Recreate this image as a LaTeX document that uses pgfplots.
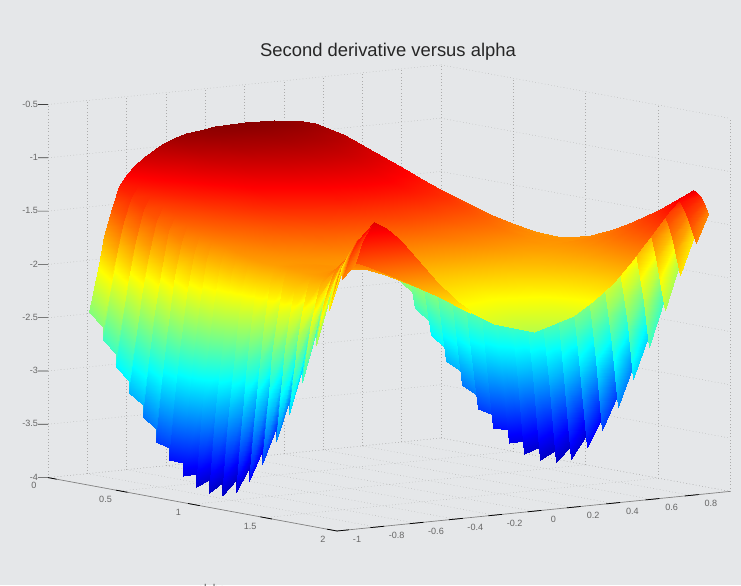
\documentclass[border=0pt]{standalone}
\usepackage{pgfplots}
\pgfplotsset{compat=1.18}
\usepackage{fontspec}
\setmainfont{Liberation Sans}
\definecolor{bgc}{RGB}{229,231,233}
\begin{document}
\begin{tikzpicture}
\path[use as bounding box,fill=bgc] (0,0) rectangle (555.75pt,438.75pt);
\begin{axis}[
 at={(36pt,40.5pt)},anchor=south west,
 x={(108.375pt,-20.025pt)},y={(147.375pt,14.85pt)},z={(0pt,79.95pt)},
 xmin=0,xmax=2,ymin=-1,ymax=1,zmin=-4,zmax=-0.5,
 clip=false,
 axis line style={draw=none},
 grid=major,grid style={dotted,gray!65,line width=0.35pt},
 xtick={0,0.5,1,1.5,2},xticklabels={0,0.5,1,1.5,2},
 ytick={-1,-0.8,-0.6,-0.4,-0.2,0,0.2,0.4,0.6,0.8,1},
 yticklabels={-1,-0.8,-0.6,-0.4,-0.2,0,0.2,0.4,0.6,0.8,},
 ztick={-4,-3.5,-3,-2.5,-2,-1.5,-1,-0.5},
 zticklabels={-4,-3.5,-3,-2.5,-2,-1.5,-1,-0.5},
 xtick pos=lower,ytick pos=lower,ztick pos=left,
 xtick style={draw=none},ytick style={draw=none},ztick style={draw=none},
 tick label style={font=\fontsize{6.8pt}{8pt}\selectfont,text=gray!80!black},
 xticklabel style={xshift=-5.25pt},
 yticklabel style={xshift=10pt},
 zticklabel style={xshift=-4pt},
 major tick length=7pt,
 colormap={jetm}{rgb(0pt)=(0,0,.5); rgb(1pt)=(0,0,1); rgb(3pt)=(0,1,1); rgb(5pt)=(1,1,0); rgb(7pt)=(1,0,0); rgb(8pt)=(.5,0,0)},
 point meta min=-4.18,point meta max=-0.82,
 title={Second derivative versus alpha},
 title style={font=\fontsize{13.8pt}{16pt}\selectfont,text=black!85,at={(axis description cs:0.4985,1.011)},anchor=center},
 xlabel={alpha},
 xlabel style={font=\fontsize{8.5pt}{10pt}\selectfont,text=gray!70!black,at={(axis description cs:0.24,-0.125)},anchor=center},
]
\addplot3[black!50,line width=0.5pt,no marks] coordinates {(0,-1,-4) (2,-1,-4) (2,1,-4)};
\addplot3[black,line width=0.55pt,no marks,unbounded coords=jump] coordinates {
 (0,-1,-4) (0.06,-1,-4) (nan,nan,nan)
 (0.47,-1,-4) (0.55,-1,-4) (nan,nan,nan)
 (0.97,-1,-4) (1.05,-1,-4) (nan,nan,nan)
 (1.47,-1,-4) (1.55,-1,-4) (nan,nan,nan)
 (1.93,-1,-4) (2,-1,-4) (nan,nan,nan)
 (2,-1,-4) (2,-0.94,-4) (nan,nan,nan)
 (2,-0.83,-4) (2,-0.76,-4) (nan,nan,nan)
 (2,-0.63,-4) (2,-0.56,-4) (nan,nan,nan)
 (2,-0.43,-4) (2,-0.36,-4) (nan,nan,nan)
 (2,-0.23,-4) (2,-0.16,-4) (nan,nan,nan)
 (2,-0.03,-4) (2,0.04,-4) (nan,nan,nan)
 (2,0.17,-4) (2,0.24,-4) (nan,nan,nan)
 (2,0.37,-4) (2,0.44,-4) (nan,nan,nan)
 (2,0.57,-4) (2,0.64,-4) (nan,nan,nan)
 (2,0.77,-4) (2,0.84,-4)
};
\addplot3[black!75,line width=0.45pt,no marks,unbounded coords=jump] coordinates {
 (0,-1,-4) (-0.0244,-1.0329,-4) (nan,nan,nan)
 (0,-1,-3.5) (-0.0244,-1.0329,-3.5) (nan,nan,nan)
 (0,-1,-3) (-0.0244,-1.0329,-3) (nan,nan,nan)
 (0,-1,-2.5) (-0.0244,-1.0329,-2.5) (nan,nan,nan)
 (0,-1,-2) (-0.0244,-1.0329,-2) (nan,nan,nan)
 (0,-1,-1.5) (-0.0244,-1.0329,-1.5) (nan,nan,nan)
 (0,-1,-1) (-0.0244,-1.0329,-1) (nan,nan,nan)
 (0,-1,-0.5) (-0.0244,-1.0329,-0.5)
};
% far wall, strip by strip
\addplot3[surf,shader=interp,mesh/rows=40,mesh/cols=6,z buffer=none,point meta=explicit] table[meta index=3] {
0 0.79 -2.49 -2.49
0 0.743 -2.04 -2.04
0 0.714 -1.79 -1.79
0 0.676 -1.53 -1.53
0 0.638 -1.33 -1.33
0 0.60 -1.23 -1.23
0.1 0.796 -2.60 -2.49
0.1 0.750 -2.13 -2.04
0.1 0.722 -1.89 -1.79
0.1 0.685 -1.61 -1.53
0.1 0.648 -1.40 -1.37
0.1 0.611 -1.30 -1.30
0.1 0.796 -2.72 -2.72
0.1 0.750 -2.21 -2.21
0.1 0.722 -1.94 -1.94
0.1 0.685 -1.64 -1.64
0.1 0.648 -1.41 -1.41
0.1 0.611 -1.30 -1.30
0.2 0.802 -2.83 -2.72
0.2 0.756 -2.30 -2.21
0.2 0.729 -2.03 -1.94
0.2 0.693 -1.72 -1.64
0.2 0.657 -1.49 -1.45
0.2 0.621 -1.37 -1.37
0.2 0.802 -2.95 -2.95
0.2 0.756 -2.38 -2.38
0.2 0.729 -2.08 -2.08
0.2 0.693 -1.75 -1.75
0.2 0.657 -1.50 -1.50
0.2 0.621 -1.37 -1.37
0.3 0.807 -3.05 -2.95
0.3 0.763 -2.47 -2.38
0.3 0.737 -2.16 -2.08
0.3 0.702 -1.83 -1.75
0.3 0.667 -1.57 -1.53
0.3 0.632 -1.44 -1.44
0.3 0.807 -3.17 -3.17
0.3 0.763 -2.55 -2.55
0.3 0.737 -2.21 -2.21
0.3 0.702 -1.86 -1.86
0.3 0.667 -1.58 -1.58
0.3 0.632 -1.44 -1.44
0.4 0.813 -3.25 -3.17
0.4 0.770 -2.62 -2.55
0.4 0.745 -2.29 -2.21
0.4 0.710 -1.92 -1.86
0.4 0.676 -1.64 -1.61
0.4 0.642 -1.50 -1.50
0.4 0.813 -3.37 -3.37
0.4 0.770 -2.70 -2.70
0.4 0.745 -2.34 -2.34
0.4 0.710 -1.95 -1.95
0.4 0.676 -1.65 -1.65
0.4 0.642 -1.50 -1.50
0.5 0.819 -3.45 -3.37
0.5 0.777 -2.77 -2.70
0.5 0.752 -2.41 -2.34
0.5 0.719 -2.01 -1.95
0.5 0.686 -1.71 -1.68
0.5 0.653 -1.56 -1.56
0.5 0.819 -3.57 -3.57
0.5 0.777 -2.85 -2.85
0.5 0.752 -2.46 -2.46
0.5 0.719 -2.04 -2.04
0.5 0.686 -1.72 -1.72
0.5 0.653 -1.56 -1.56
0.6 0.825 -3.60 -3.57
0.6 0.784 -2.88 -2.85
0.6 0.760 -2.51 -2.46
0.6 0.728 -2.09 -2.04
0.6 0.695 -1.77 -1.75
0.6 0.663 -1.61 -1.61
0.6 0.825 -3.72 -3.72
0.6 0.784 -2.96 -2.96
0.6 0.760 -2.56 -2.56
0.6 0.728 -2.12 -2.12
0.6 0.695 -1.78 -1.78
0.6 0.663 -1.61 -1.61
0.7 0.830 -3.72 -3.72
0.7 0.791 -2.97 -2.96
0.7 0.768 -2.58 -2.56
0.7 0.736 -2.15 -2.12
0.7 0.705 -1.82 -1.80
0.7 0.674 -1.65 -1.65
0.7 0.830 -3.84 -3.84
0.7 0.791 -3.05 -3.05
0.7 0.768 -2.63 -2.63
0.7 0.736 -2.18 -2.18
0.7 0.705 -1.83 -1.83
0.7 0.674 -1.65 -1.65
0.8 0.836 -3.80 -3.84
0.8 0.798 -3.04 -3.05
0.8 0.775 -2.64 -2.63
0.8 0.745 -2.20 -2.18
0.8 0.714 -1.86 -1.85
0.8 0.684 -1.69 -1.69
0.8 0.836 -3.92 -3.92
0.8 0.798 -3.12 -3.12
0.8 0.775 -2.69 -2.69
0.8 0.745 -2.23 -2.23
0.8 0.714 -1.87 -1.87
0.8 0.684 -1.69 -1.69
0.9 0.842 -3.83 -3.92
0.9 0.805 -3.07 -3.12
0.9 0.783 -2.67 -2.69
0.9 0.753 -2.23 -2.23
0.9 0.724 -1.89 -1.88
0.9 0.695 -1.72 -1.72
0.9 0.842 -3.95 -3.95
0.9 0.805 -3.15 -3.15
0.9 0.783 -2.72 -2.72
0.9 0.753 -2.26 -2.26
0.9 0.724 -1.90 -1.90
0.9 0.695 -1.72 -1.72
1 0.848 -3.83 -3.95
1 0.812 -3.08 -3.15
1 0.791 -2.68 -2.72
1 0.762 -2.24 -2.26
1 0.734 -1.91 -1.90
1 0.705 -1.74 -1.74
1 0.848 -3.95 -3.95
1 0.812 -3.16 -3.16
1 0.791 -2.73 -2.73
1 0.762 -2.27 -2.27
1 0.734 -1.92 -1.92
1 0.705 -1.74 -1.74
1.1 0.853 -3.77 -3.95
1.1 0.819 -3.05 -3.16
1.1 0.798 -2.66 -2.73
1.1 0.771 -2.24 -2.27
1.1 0.743 -1.92 -1.92
1.1 0.716 -1.76 -1.76
1.1 0.853 -3.89 -3.89
1.1 0.819 -3.13 -3.13
1.1 0.798 -2.71 -2.71
1.1 0.771 -2.27 -2.27
1.1 0.743 -1.93 -1.93
1.1 0.716 -1.76 -1.76
1.2 0.859 -3.64 -3.89
1.2 0.826 -2.96 -3.13
1.2 0.806 -2.61 -2.71
1.2 0.779 -2.21 -2.27
1.2 0.753 -1.91 -1.92
1.2 0.726 -1.76 -1.76
1.2 0.859 -3.76 -3.76
1.2 0.826 -3.04 -3.04
1.2 0.806 -2.66 -2.66
1.2 0.779 -2.24 -2.24
1.2 0.753 -1.92 -1.92
1.2 0.726 -1.76 -1.76
1.3 0.865 -3.45 -3.76
1.3 0.833 -2.83 -3.04
1.3 0.814 -2.51 -2.66
1.3 0.788 -2.15 -2.24
1.3 0.762 -1.88 -1.90
1.3 0.737 -1.74 -1.74
1.3 0.865 -3.57 -3.57
1.3 0.833 -2.91 -2.91
1.3 0.814 -2.56 -2.56
1.3 0.788 -2.18 -2.18
1.3 0.762 -1.89 -1.89
1.3 0.737 -1.74 -1.74
1.4 0.871 -3.21 -3.57
1.4 0.840 -2.67 -2.91
1.4 0.821 -2.38 -2.56
1.4 0.796 -2.06 -2.18
1.4 0.772 -1.82 -1.85
1.4 0.747 -1.70 -1.70
1.4 0.871 -3.33 -3.33
1.4 0.840 -2.75 -2.75
1.4 0.821 -2.43 -2.43
1.4 0.796 -2.09 -2.09
1.4 0.772 -1.83 -1.83
1.4 0.747 -1.70 -1.70
1.5 0.876 -2.93 -3.33
1.5 0.847 -2.46 -2.75
1.5 0.829 -2.22 -2.43
1.5 0.805 -1.94 -2.09
1.5 0.781 -1.73 -1.78
1.5 0.758 -1.63 -1.63
1.5 0.876 -3.05 -3.05
1.5 0.847 -2.54 -2.54
1.5 0.829 -2.27 -2.27
1.5 0.805 -1.97 -1.97
1.5 0.781 -1.74 -1.74
1.5 0.758 -1.63 -1.63
1.6 0.882 -2.60 -3.05
1.6 0.854 -2.22 -2.54
1.6 0.836 -2.02 -2.27
1.6 0.814 -1.80 -1.97
1.6 0.791 -1.63 -1.68
1.6 0.768 -1.55 -1.55
1.6 0.882 -2.72 -2.72
1.6 0.854 -2.30 -2.30
1.6 0.836 -2.07 -2.07
1.6 0.814 -1.83 -1.83
1.6 0.791 -1.64 -1.64
1.6 0.768 -1.55 -1.55
1.7 0.888 -2.23 -2.72
1.7 0.861 -1.95 -2.30
1.7 0.844 -1.81 -2.07
1.7 0.822 -1.64 -1.83
1.7 0.800 -1.52 -1.58
1.7 0.779 -1.46 -1.46
1.7 0.888 -2.35 -2.35
1.7 0.861 -2.03 -2.03
1.7 0.844 -1.86 -1.86
1.7 0.822 -1.67 -1.67
1.7 0.800 -1.53 -1.53
1.7 0.779 -1.46 -1.46
1.8 0.894 -1.88 -2.35
1.8 0.867 -1.69 -2.03
1.8 0.852 -1.59 -1.86
1.8 0.831 -1.48 -1.67
1.8 0.810 -1.40 -1.46
1.8 0.789 -1.36 -1.36
1.8 0.894 -2.00 -2.00
1.8 0.867 -1.77 -1.77
1.8 0.852 -1.64 -1.64
1.8 0.831 -1.51 -1.51
1.8 0.810 -1.41 -1.41
1.8 0.789 -1.36 -1.36
1.9 0.899 -1.56 -2.00
1.9 0.874 -1.45 -1.77
1.9 0.859 -1.39 -1.64
1.9 0.840 -1.32 -1.51
1.9 0.820 -1.27 -1.34
1.9 0.800 -1.25 -1.25
1.9 0.899 -1.68 -1.68
1.9 0.874 -1.53 -1.53
1.9 0.859 -1.44 -1.44
1.9 0.840 -1.35 -1.35
1.9 0.820 -1.28 -1.28
1.9 0.800 -1.25 -1.25
2 0.89 -1.38 -1.68
2 0.875 -1.30 -1.53
2 0.862 -1.25 -1.44
2 0.848 -1.20 -1.35
2 0.829 -1.16 -1.22
2 0.81 -1.14 -1.14
};
% main sheet
\addplot3[surf,shader=interp,mesh/rows=21,mesh/cols=17,z buffer=none,point meta=z] table {
0 0.60 -1.23
0 0.555 -1.15
0 0.51 -1.08
0 0.42 -0.98
0 0.36 -0.93
0 0.30 -0.90
0 0.225 -0.88
0 0.15 -0.86
0 0 -0.85
0 -0.15 -0.86
0 -0.225 -0.88
0 -0.30 -0.90
0 -0.36 -0.93
0 -0.42 -0.98
0 -0.51 -1.08
0 -0.555 -1.15
0 -0.60 -1.23
0.1 0.611 -1.30
0.1 0.565 -1.21
0.1 0.519 -1.13
0.1 0.427 -1.02
0.1 0.366 -0.97
0.1 0.305 -0.93
0.1 0.229 -0.90
0.1 0.153 -0.88
0.1 0 -0.87
0.1 -0.153 -0.88
0.1 -0.229 -0.90
0.1 -0.305 -0.93
0.1 -0.366 -0.97
0.1 -0.427 -1.02
0.1 -0.519 -1.13
0.1 -0.565 -1.21
0.1 -0.611 -1.30
0.2 0.621 -1.37
0.2 0.574 -1.28
0.2 0.528 -1.20
0.2 0.435 -1.08
0.2 0.373 -1.02
0.2 0.311 -0.98
0.2 0.233 -0.95
0.2 0.155 -0.93
0.2 0 -0.91
0.2 -0.155 -0.93
0.2 -0.233 -0.95
0.2 -0.311 -0.98
0.2 -0.373 -1.02
0.2 -0.435 -1.08
0.2 -0.528 -1.20
0.2 -0.574 -1.28
0.2 -0.621 -1.37
0.3 0.632 -1.44
0.3 0.584 -1.34
0.3 0.537 -1.26
0.3 0.442 -1.14
0.3 0.379 -1.07
0.3 0.316 -1.03
0.3 0.237 -0.99
0.3 0.158 -0.97
0.3 0 -0.95
0.3 -0.158 -0.97
0.3 -0.237 -0.99
0.3 -0.316 -1.03
0.3 -0.379 -1.07
0.3 -0.442 -1.14
0.3 -0.537 -1.26
0.3 -0.584 -1.34
0.3 -0.632 -1.44
0.4 0.642 -1.50
0.4 0.594 -1.41
0.4 0.546 -1.33
0.4 0.449 -1.20
0.4 0.385 -1.13
0.4 0.321 -1.09
0.4 0.241 -1.05
0.4 0.161 -1.02
0.4 0 -1.00
0.4 -0.161 -1.02
0.4 -0.241 -1.05
0.4 -0.321 -1.09
0.4 -0.385 -1.13
0.4 -0.449 -1.20
0.4 -0.546 -1.33
0.4 -0.594 -1.41
0.4 -0.642 -1.50
0.5 0.653 -1.56
0.5 0.604 -1.47
0.5 0.555 -1.39
0.5 0.457 -1.26
0.5 0.392 -1.19
0.5 0.326 -1.14
0.5 0.245 -1.10
0.5 0.163 -1.07
0.5 0 -1.05
0.5 -0.163 -1.07
0.5 -0.245 -1.10
0.5 -0.326 -1.14
0.5 -0.392 -1.19
0.5 -0.457 -1.26
0.5 -0.555 -1.39
0.5 -0.604 -1.47
0.5 -0.653 -1.56
0.6 0.663 -1.61
0.6 0.613 -1.53
0.6 0.564 -1.45
0.6 0.464 -1.32
0.6 0.398 -1.25
0.6 0.332 -1.21
0.6 0.249 -1.16
0.6 0.166 -1.13
0.6 0 -1.11
0.6 -0.166 -1.13
0.6 -0.249 -1.16
0.6 -0.332 -1.21
0.6 -0.398 -1.25
0.6 -0.464 -1.32
0.6 -0.564 -1.45
0.6 -0.613 -1.53
0.6 -0.663 -1.61
0.7 0.674 -1.65
0.7 0.623 -1.57
0.7 0.572 -1.50
0.7 0.471 -1.38
0.7 0.404 -1.31
0.7 0.337 -1.27
0.7 0.253 -1.23
0.7 0.168 -1.19
0.7 0 -1.17
0.7 -0.168 -1.19
0.7 -0.253 -1.23
0.7 -0.337 -1.27
0.7 -0.404 -1.31
0.7 -0.471 -1.38
0.7 -0.572 -1.50
0.7 -0.623 -1.57
0.7 -0.674 -1.65
0.8 0.684 -1.69
0.8 0.633 -1.62
0.8 0.581 -1.55
0.8 0.479 -1.44
0.8 0.410 -1.37
0.8 0.342 -1.33
0.8 0.257 -1.29
0.8 0.171 -1.25
0.8 0 -1.23
0.8 -0.171 -1.25
0.8 -0.257 -1.29
0.8 -0.342 -1.33
0.8 -0.410 -1.37
0.8 -0.479 -1.44
0.8 -0.581 -1.55
0.8 -0.633 -1.62
0.8 -0.684 -1.69
0.9 0.695 -1.72
0.9 0.642 -1.66
0.9 0.590 -1.60
0.9 0.486 -1.50
0.9 0.417 -1.44
0.9 0.347 -1.39
0.9 0.260 -1.35
0.9 0.174 -1.32
0.9 0 -1.30
0.9 -0.174 -1.32
0.9 -0.260 -1.35
0.9 -0.347 -1.39
0.9 -0.417 -1.44
0.9 -0.486 -1.50
0.9 -0.590 -1.60
0.9 -0.642 -1.66
0.9 -0.695 -1.72
1 0.705 -1.74
1 0.652 -1.69
1 0.599 -1.64
1 0.494 -1.56
1 0.423 -1.51
1 0.353 -1.47
1 0.264 -1.44
1 0.176 -1.41
1 0 -1.39
1 -0.176 -1.41
1 -0.264 -1.44
1 -0.353 -1.47
1 -0.423 -1.51
1 -0.494 -1.56
1 -0.599 -1.64
1 -0.652 -1.69
1 -0.705 -1.74
1.1 0.716 -1.76
1.1 0.662 -1.72
1.1 0.608 -1.69
1.1 0.501 -1.62
1.1 0.429 -1.58
1.1 0.358 -1.55
1.1 0.268 -1.52
1.1 0.179 -1.50
1.1 0 -1.48
1.1 -0.179 -1.50
1.1 -0.268 -1.52
1.1 -0.358 -1.55
1.1 -0.429 -1.58
1.1 -0.501 -1.62
1.1 -0.608 -1.69
1.1 -0.662 -1.72
1.1 -0.716 -1.76
1.2 0.726 -1.76
1.2 0.672 -1.74
1.2 0.617 -1.72
1.2 0.508 -1.68
1.2 0.436 -1.64
1.2 0.363 -1.62
1.2 0.272 -1.61
1.2 0.182 -1.60
1.2 0 -1.58
1.2 -0.182 -1.60
1.2 -0.272 -1.61
1.2 -0.363 -1.62
1.2 -0.436 -1.64
1.2 -0.508 -1.68
1.2 -0.617 -1.72
1.2 -0.672 -1.74
1.2 -0.726 -1.76
1.3 0.737 -1.74
1.3 0.681 -1.73
1.3 0.626 -1.73
1.3 0.516 -1.72
1.3 0.442 -1.71
1.3 0.368 -1.70
1.3 0.276 -1.69
1.3 0.184 -1.68
1.3 0 -1.68
1.3 -0.184 -1.68
1.3 -0.276 -1.69
1.3 -0.368 -1.70
1.3 -0.442 -1.71
1.3 -0.516 -1.72
1.3 -0.626 -1.73
1.3 -0.681 -1.73
1.3 -0.737 -1.74
1.4 0.747 -1.70
1.4 0.691 -1.71
1.4 0.635 -1.72
1.4 0.523 -1.74
1.4 0.448 -1.75
1.4 0.374 -1.76
1.4 0.280 -1.76
1.4 0.187 -1.77
1.4 0 -1.78
1.4 -0.187 -1.77
1.4 -0.280 -1.76
1.4 -0.374 -1.76
1.4 -0.448 -1.75
1.4 -0.523 -1.74
1.4 -0.635 -1.72
1.4 -0.691 -1.73
1.4 -0.747 -1.77
1.5 0.758 -1.63
1.5 0.701 -1.66
1.5 0.644 -1.68
1.5 0.530 -1.74
1.5 0.455 -1.78
1.5 0.379 -1.82
1.5 0.284 -1.84
1.5 0.189 -1.86
1.5 0 -1.88
1.5 -0.189 -1.86
1.5 -0.284 -1.84
1.5 -0.379 -1.82
1.5 -0.455 -1.78
1.5 -0.530 -1.74
1.5 -0.644 -1.73
1.5 -0.701 -1.74
1.5 -0.758 -1.76
1.6 0.768 -1.55
1.6 0.710 -1.60
1.6 0.653 -1.64
1.6 0.538 -1.74
1.6 0.461 -1.80
1.6 0.384 -1.85
1.6 0.288 -1.90
1.6 0.192 -1.94
1.6 0 -1.97
1.6 -0.192 -1.94
1.6 -0.288 -1.90
1.6 -0.384 -1.85
1.6 -0.461 -1.80
1.6 -0.538 -1.74
1.6 -0.653 -1.69
1.6 -0.710 -1.71
1.6 -0.768 -1.74
1.7 0.779 -1.46
1.7 0.720 -1.51
1.7 0.662 -1.58
1.7 0.545 -1.72
1.7 0.467 -1.80
1.7 0.389 -1.89
1.7 0.292 -1.96
1.7 0.195 -2.01
1.7 0 -2.06
1.7 -0.195 -2.01
1.7 -0.292 -1.96
1.7 -0.389 -1.89
1.7 -0.467 -1.80
1.7 -0.545 -1.72
1.7 -0.662 -1.63
1.7 -0.720 -1.62
1.7 -0.779 -1.64
1.8 0.789 -1.36
1.8 0.730 -1.42
1.8 0.671 -1.50
1.8 0.552 -1.69
1.8 0.473 -1.81
1.8 0.395 -1.91
1.8 0.296 -2.01
1.8 0.197 -2.09
1.8 0 -2.15
1.8 -0.197 -2.09
1.8 -0.296 -2.01
1.8 -0.395 -1.91
1.8 -0.473 -1.81
1.8 -0.552 -1.69
1.8 -0.671 -1.54
1.8 -0.730 -1.51
1.8 -0.789 -1.50
1.9 0.800 -1.25
1.9 0.740 -1.32
1.9 0.680 -1.41
1.9 0.560 -1.64
1.9 0.480 -1.80
1.9 0.400 -1.93
1.9 0.300 -2.05
1.9 0.200 -2.16
1.9 0 -2.24
1.9 -0.200 -2.16
1.9 -0.300 -2.05
1.9 -0.400 -1.93
1.9 -0.480 -1.80
1.9 -0.560 -1.64
1.9 -0.680 -1.41
1.9 -0.740 -1.35
1.9 -0.800 -1.30
2 0.81 -1.14
2 0.749 -1.20
2 0.689 -1.31
2 0.567 -1.59
2 0.486 -1.77
2 0.405 -1.93
2 0.304 -2.08
2 0.203 -2.21
2 0 -2.32
2 -0.203 -2.21
2 -0.304 -2.08
2 -0.405 -1.93
2 -0.486 -1.77
2 -0.567 -1.59
2 -0.689 -1.31
2 -0.749 -1.20
2 -0.81 -1.14
};
% near wall, strip by strip
\addplot3[surf,shader=interp,mesh/rows=40,mesh/cols=6,z buffer=none,point meta=explicit] table[meta index=3] {
0 -0.60 -1.23 -1.23
0 -0.638 -1.33 -1.33
0 -0.676 -1.53 -1.53
0 -0.714 -1.79 -1.79
0 -0.743 -2.04 -2.04
0 -0.79 -2.49 -2.49
0.1 -0.611 -1.30 -1.30
0.1 -0.648 -1.40 -1.37
0.1 -0.685 -1.61 -1.53
0.1 -0.722 -1.89 -1.79
0.1 -0.750 -2.13 -2.04
0.1 -0.796 -2.60 -2.49
0.1 -0.611 -1.30 -1.30
0.1 -0.648 -1.41 -1.41
0.1 -0.685 -1.64 -1.64
0.1 -0.722 -1.94 -1.94
0.1 -0.750 -2.21 -2.21
0.1 -0.796 -2.72 -2.72
0.2 -0.621 -1.37 -1.37
0.2 -0.657 -1.49 -1.45
0.2 -0.693 -1.72 -1.64
0.2 -0.729 -2.03 -1.94
0.2 -0.756 -2.30 -2.21
0.2 -0.802 -2.83 -2.72
0.2 -0.621 -1.37 -1.37
0.2 -0.657 -1.50 -1.50
0.2 -0.693 -1.75 -1.75
0.2 -0.729 -2.08 -2.08
0.2 -0.756 -2.38 -2.38
0.2 -0.802 -2.95 -2.95
0.3 -0.632 -1.44 -1.44
0.3 -0.667 -1.57 -1.53
0.3 -0.702 -1.83 -1.75
0.3 -0.737 -2.16 -2.08
0.3 -0.763 -2.47 -2.38
0.3 -0.807 -3.05 -2.95
0.3 -0.632 -1.44 -1.44
0.3 -0.667 -1.58 -1.58
0.3 -0.702 -1.86 -1.86
0.3 -0.737 -2.21 -2.21
0.3 -0.763 -2.55 -2.55
0.3 -0.807 -3.17 -3.17
0.4 -0.642 -1.50 -1.50
0.4 -0.676 -1.64 -1.61
0.4 -0.710 -1.92 -1.86
0.4 -0.745 -2.29 -2.21
0.4 -0.770 -2.62 -2.55
0.4 -0.813 -3.25 -3.17
0.4 -0.642 -1.50 -1.50
0.4 -0.676 -1.65 -1.65
0.4 -0.710 -1.95 -1.95
0.4 -0.745 -2.34 -2.34
0.4 -0.770 -2.70 -2.70
0.4 -0.813 -3.37 -3.37
0.5 -0.653 -1.56 -1.56
0.5 -0.686 -1.71 -1.68
0.5 -0.719 -2.01 -1.95
0.5 -0.752 -2.41 -2.34
0.5 -0.777 -2.77 -2.70
0.5 -0.819 -3.45 -3.37
0.5 -0.653 -1.56 -1.56
0.5 -0.686 -1.72 -1.72
0.5 -0.719 -2.04 -2.04
0.5 -0.752 -2.46 -2.46
0.5 -0.777 -2.85 -2.85
0.5 -0.819 -3.57 -3.57
0.6 -0.663 -1.61 -1.61
0.6 -0.695 -1.77 -1.75
0.6 -0.728 -2.09 -2.04
0.6 -0.760 -2.51 -2.46
0.6 -0.784 -2.88 -2.85
0.6 -0.825 -3.60 -3.57
0.6 -0.663 -1.61 -1.61
0.6 -0.695 -1.78 -1.78
0.6 -0.728 -2.12 -2.12
0.6 -0.760 -2.56 -2.56
0.6 -0.784 -2.96 -2.96
0.6 -0.825 -3.72 -3.72
0.7 -0.674 -1.65 -1.65
0.7 -0.705 -1.82 -1.80
0.7 -0.736 -2.15 -2.12
0.7 -0.768 -2.58 -2.56
0.7 -0.791 -2.97 -2.96
0.7 -0.830 -3.72 -3.72
0.7 -0.674 -1.65 -1.65
0.7 -0.705 -1.83 -1.83
0.7 -0.736 -2.18 -2.18
0.7 -0.768 -2.63 -2.63
0.7 -0.791 -3.05 -3.05
0.7 -0.830 -3.84 -3.84
0.8 -0.684 -1.69 -1.69
0.8 -0.714 -1.86 -1.85
0.8 -0.745 -2.20 -2.18
0.8 -0.775 -2.64 -2.63
0.8 -0.798 -3.04 -3.05
0.8 -0.836 -3.80 -3.84
0.8 -0.684 -1.69 -1.69
0.8 -0.714 -1.87 -1.87
0.8 -0.745 -2.23 -2.23
0.8 -0.775 -2.69 -2.69
0.8 -0.798 -3.12 -3.12
0.8 -0.836 -3.92 -3.92
0.9 -0.695 -1.72 -1.72
0.9 -0.724 -1.89 -1.88
0.9 -0.753 -2.23 -2.23
0.9 -0.783 -2.67 -2.69
0.9 -0.805 -3.07 -3.12
0.9 -0.842 -3.83 -3.92
0.9 -0.695 -1.72 -1.72
0.9 -0.724 -1.90 -1.90
0.9 -0.753 -2.26 -2.26
0.9 -0.783 -2.72 -2.72
0.9 -0.805 -3.15 -3.15
0.9 -0.842 -3.95 -3.95
1 -0.705 -1.74 -1.74
1 -0.734 -1.91 -1.90
1 -0.762 -2.24 -2.26
1 -0.791 -2.68 -2.72
1 -0.812 -3.08 -3.15
1 -0.848 -3.83 -3.95
1 -0.705 -1.74 -1.74
1 -0.734 -1.92 -1.92
1 -0.762 -2.27 -2.27
1 -0.791 -2.73 -2.73
1 -0.812 -3.16 -3.16
1 -0.848 -3.95 -3.95
1.1 -0.716 -1.76 -1.76
1.1 -0.743 -1.92 -1.92
1.1 -0.771 -2.24 -2.27
1.1 -0.798 -2.66 -2.73
1.1 -0.819 -3.05 -3.16
1.1 -0.853 -3.77 -3.95
1.1 -0.716 -1.76 -1.76
1.1 -0.743 -1.93 -1.93
1.1 -0.771 -2.27 -2.27
1.1 -0.798 -2.71 -2.71
1.1 -0.819 -3.13 -3.13
1.1 -0.853 -3.89 -3.89
1.2 -0.726 -1.76 -1.76
1.2 -0.753 -1.91 -1.92
1.2 -0.779 -2.21 -2.27
1.2 -0.806 -2.61 -2.71
1.2 -0.826 -2.96 -3.13
1.2 -0.859 -3.64 -3.89
1.2 -0.726 -1.76 -1.76
1.2 -0.753 -1.92 -1.92
1.2 -0.779 -2.24 -2.24
1.2 -0.806 -2.66 -2.66
1.2 -0.826 -3.04 -3.04
1.2 -0.859 -3.76 -3.76
1.3 -0.737 -1.74 -1.74
1.3 -0.762 -1.88 -1.90
1.3 -0.788 -2.15 -2.24
1.3 -0.814 -2.51 -2.66
1.3 -0.833 -2.83 -3.04
1.3 -0.865 -3.45 -3.76
1.3 -0.737 -1.74 -1.74
1.3 -0.762 -1.89 -1.89
1.3 -0.788 -2.18 -2.18
1.3 -0.814 -2.56 -2.56
1.3 -0.833 -2.91 -2.91
1.3 -0.865 -3.57 -3.57
1.4 -0.747 -1.77 -1.77
1.4 -0.772 -1.89 -1.89
1.4 -0.796 -2.12 -2.18
1.4 -0.821 -2.42 -2.56
1.4 -0.840 -2.69 -2.91
1.4 -0.871 -3.21 -3.57
1.4 -0.747 -1.77 -1.77
1.4 -0.772 -1.90 -1.90
1.4 -0.796 -2.15 -2.15
1.4 -0.821 -2.47 -2.47
1.4 -0.840 -2.77 -2.77
1.4 -0.871 -3.33 -3.33
1.5 -0.758 -1.76 -1.76
1.5 -0.781 -1.85 -1.87
1.5 -0.805 -2.04 -2.15
1.5 -0.829 -2.29 -2.47
1.5 -0.847 -2.51 -2.77
1.5 -0.876 -2.93 -3.33
1.5 -0.758 -1.76 -1.76
1.5 -0.781 -1.86 -1.86
1.5 -0.805 -2.07 -2.07
1.5 -0.829 -2.34 -2.34
1.5 -0.847 -2.59 -2.59
1.5 -0.876 -3.05 -3.05
1.6 -0.768 -1.74 -1.74
1.6 -0.791 -1.81 -1.83
1.6 -0.814 -1.95 -2.07
1.6 -0.836 -2.13 -2.34
1.6 -0.854 -2.29 -2.59
1.6 -0.882 -2.60 -3.05
1.6 -0.768 -1.74 -1.74
1.6 -0.791 -1.82 -1.82
1.6 -0.814 -1.98 -1.98
1.6 -0.836 -2.18 -2.18
1.6 -0.854 -2.37 -2.37
1.6 -0.882 -2.72 -2.72
1.7 -0.779 -1.64 -1.64
1.7 -0.800 -1.69 -1.75
1.7 -0.822 -1.78 -1.98
1.7 -0.844 -1.91 -2.18
1.7 -0.861 -2.02 -2.37
1.7 -0.888 -2.23 -2.72
1.7 -0.779 -1.64 -1.64
1.7 -0.800 -1.70 -1.70
1.7 -0.822 -1.81 -1.81
1.7 -0.844 -1.96 -1.96
1.7 -0.861 -2.10 -2.10
1.7 -0.888 -2.35 -2.35
1.8 -0.789 -1.50 -1.50
1.8 -0.810 -1.53 -1.62
1.8 -0.831 -1.59 -1.81
1.8 -0.852 -1.67 -1.96
1.8 -0.867 -1.74 -2.10
1.8 -0.894 -1.88 -2.35
1.8 -0.789 -1.50 -1.50
1.8 -0.810 -1.54 -1.54
1.8 -0.831 -1.62 -1.62
1.8 -0.852 -1.72 -1.72
1.8 -0.867 -1.82 -1.82
1.8 -0.894 -2.00 -2.00
1.9 -0.800 -1.30 -1.30
1.9 -0.820 -1.32 -1.43
1.9 -0.840 -1.36 -1.62
1.9 -0.859 -1.42 -1.72
1.9 -0.874 -1.47 -1.82
1.9 -0.899 -1.56 -2.00
1.9 -0.800 -1.30 -1.30
1.9 -0.820 -1.33 -1.33
1.9 -0.840 -1.39 -1.39
1.9 -0.859 -1.47 -1.47
1.9 -0.874 -1.55 -1.55
1.9 -0.899 -1.68 -1.68
2 -0.81 -1.14 -1.14
2 -0.829 -1.17 -1.25
2 -0.848 -1.23 -1.39
2 -0.867 -1.30 -1.47
2 -0.881 -1.37 -1.55
2 -0.905 -1.50 -1.68
};
% curtain under the front edge
\addplot3[surf,shader=interp,mesh/rows=2,mesh/cols=7,z buffer=none,point meta=z] table {
2 -0.905 -1.50
2 -0.87 -1.30
2 -0.81 -1.14
2 -0.664 -1.36
2 -0.49 -1.76
2 -0.323 -2.08
2 -0.25 -2.15
2 -0.905 -1.50
2 -0.87 -1.53
2 -0.81 -1.58
2 -0.664 -1.72
2 -0.49 -1.89
2 -0.323 -2.08
2 -0.25 -2.15
};
\end{axis}
\end{tikzpicture}
\end{document}
